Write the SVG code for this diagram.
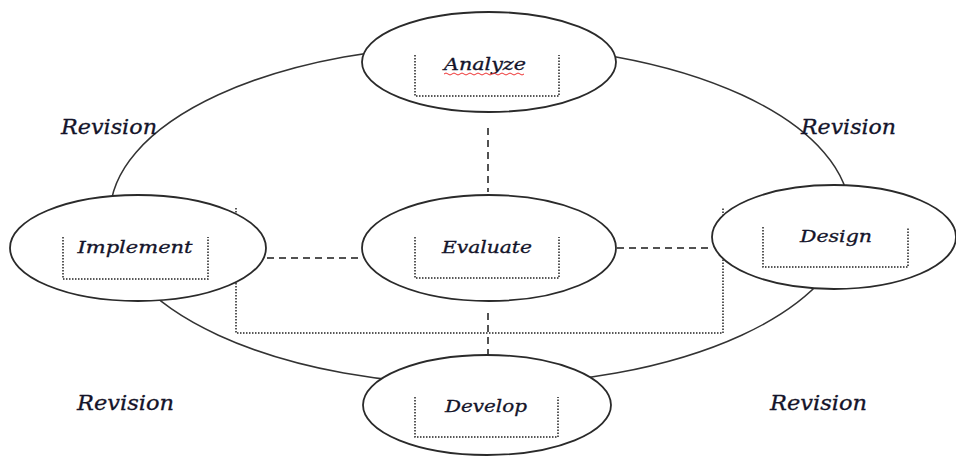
<svg xmlns="http://www.w3.org/2000/svg" width="956" height="457" viewBox="0 0 956 457">
<style>
.line{fill:none;stroke:#333;stroke-width:1.5}
.node{fill:#fff;stroke:#2a2a2a;stroke-width:1.8}
.dash{fill:none;stroke:#1a1a1a;stroke-width:1.5;stroke-dasharray:7 5}
.dot{fill:none;stroke:#222;stroke-width:1.5;stroke-dasharray:1.5 1.5}
.lbl{font-family:"DejaVu Serif","Liberation Serif",serif;font-style:italic;font-size:16px;fill:#14142a;text-anchor:middle;stroke:#14142a;stroke-width:0.3}
.rev{font-family:"DejaVu Serif","Liberation Serif",serif;font-style:italic;font-size:20px;fill:#14142a;stroke:#14142a;stroke-width:0.3}
</style>
<rect width="956" height="457" fill="#fff"/>
<g id="cycle">
<ellipse class="line" cx="480" cy="215" rx="370" ry="170"/>
</g>
<g id="connectors">
<line class="dash" x1="488" y1="128" x2="488" y2="192"/>
<line class="dash" x1="267" y1="258" x2="362" y2="258"/>
<line class="dash" x1="617" y1="248" x2="712" y2="248"/>
<line class="dash" x1="488" y1="313" x2="488" y2="372"/>
<polyline class="dot" points="236,208 236,333 723,333 723,208"/>
</g>
<g id="analyze">
<ellipse class="node" cx="489" cy="62" rx="127" ry="50"/>
<polyline class="dot" points="415,55 415,96 559,96 559,55"/>
<text class="lbl" x="485" y="70" textLength="82" lengthAdjust="spacingAndGlyphs">Analyze</text>
<path d="M444,74 q2,-2 4,0 t4,0 t4,0 t4,0 t4,0 t4,0 t4,0 t4,0 t4,0 t4,0 t4,0 t4,0 t4,0 t4,0 t4,0 t4,0 t4,0 t4,0 t4,0 t4,0" fill="none" stroke="#e33" stroke-width="1"/>
</g>
<g id="implement">
<ellipse class="node" cx="138" cy="248" rx="128" ry="53"/>
<polyline class="dot" points="63,237 63,279 208,279 208,237"/>
<text class="lbl" x="135" y="253" textLength="115" lengthAdjust="spacingAndGlyphs">Implement</text>
</g>
<g id="evaluate">
<ellipse class="node" cx="489" cy="248" rx="127" ry="53"/>
<polyline class="dot" points="415,237 415,278 559,278 559,237"/>
<text class="lbl" x="487" y="253" textLength="90" lengthAdjust="spacingAndGlyphs">Evaluate</text>
</g>
<g id="design">
<ellipse class="node" cx="834" cy="237" rx="122" ry="52"/>
<polyline class="dot" points="763,227 763,267 908,267 908,227"/>
<text class="lbl" x="836" y="242" textLength="72" lengthAdjust="spacingAndGlyphs">Design</text>
</g>
<g id="develop">
<ellipse class="node" cx="487" cy="405" rx="124" ry="50"/>
<polyline class="dot" points="415,397 415,437 558,437 558,397"/>
<text class="lbl" x="486" y="412" textLength="82" lengthAdjust="spacingAndGlyphs">Develop</text>
</g>
<g id="labels">
<text class="rev" x="61" y="134" textLength="96" lengthAdjust="spacingAndGlyphs">Revision</text>
<text class="rev" x="801" y="134" textLength="95" lengthAdjust="spacingAndGlyphs">Revision</text>
<text class="rev" x="77" y="410" textLength="97" lengthAdjust="spacingAndGlyphs">Revision</text>
<text class="rev" x="770" y="410" textLength="97" lengthAdjust="spacingAndGlyphs">Revision</text>
</g>
</svg>
